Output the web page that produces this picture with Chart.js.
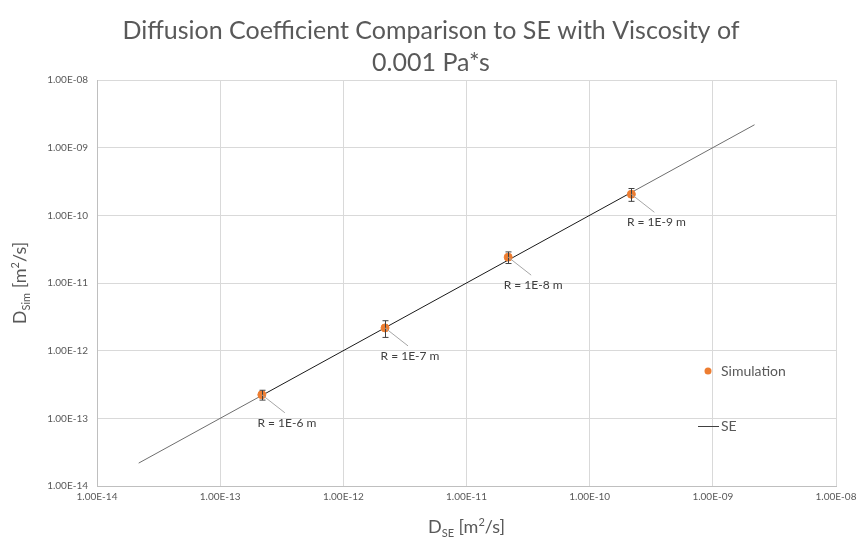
<!DOCTYPE html>
<html>
<head>
<meta charset="utf-8">
<script src="https://cdn.jsdelivr.net/npm/chart.js@4.4.1/dist/chart.umd.min.js"></script>
<style>
  html, body { margin: 0; padding: 0; background: #fff; }
  #wrap { width: 862px; height: 547px; }
</style>
</head>
<body>
<div id="wrap"><canvas id="chart"></canvas></div>
<script>
const titleLines = ['Diffusion Coefficient Comparison to SE with Viscosity of', '0.001 Pa*s'];
const tickValues = [1e-14, 1e-13, 1e-12, 1e-11, 1e-10, 1e-9, 1e-8];

// Stokes-Einstein line (R = 1E-5 ... 1E-10 m)
const seX = [2.18e-14, 2.18e-13, 2.18e-12, 2.18e-11, 2.18e-10, 2.18e-9];
const seY = [2.18e-14, 2.18e-13, 2.18e-12, 2.18e-11, 2.18e-10, 2.18e-9];

// Simulation results
const simLabels = ['R = 1E-6 m', 'R = 1E-7 m', 'R = 1E-8 m', 'R = 1E-9 m'];
const simX = [2.18e-13, 2.18e-12, 2.18e-11, 2.18e-10];
const simY = [2.23e-13, 2.17e-12, 2.41e-11, 2.05e-10];
const simErr = [3.7e-14, 0.6e-12, 4.7e-12, 4.4e-11];

const FONT = 'Lato, "Open Sans", sans-serif';
const TEXT = '#595959';

function fmtTick(v) {
    const e = Math.round(Math.log10(v));
    return '1.00E' + (e < 0 ? '-' : '+') + String(Math.abs(e)).padStart(2, '0');
}

// draw "D_sub [m^2/s]" style text, centred at (x, y)
function drawRich(ctx, parts, x, y, size) {
    const small = Math.round(size * 0.62);
    let total = 0;
    parts.forEach(p => {
        ctx.font = `${p.t ? small : size}px ${FONT}`;
        p.w = ctx.measureText(p.s).width;
        total += p.w;
    });
    let cx = x - total / 2;
    ctx.textBaseline = 'alphabetic';
    ctx.textAlign = 'left';
    parts.forEach(p => {
        ctx.font = `${p.t ? small : size}px ${FONT}`;
        let dy = 0;
        if (p.t === 'sub') dy = size * 0.22;
        if (p.t === 'sup') dy = -size * 0.38;
        ctx.fillText(p.s, cx, y + dy);
        cx += p.w;
    });
}

const extras = {
    id: 'extras',
    afterDatasetsDraw(chart) {
        const ctx = chart.ctx;
        const xs = chart.scales.x, ys = chart.scales.y;
        ctx.save();

        // error bars
        ctx.strokeStyle = '#404040';
        ctx.lineWidth = 1;
        simX.forEach((xv, i) => {
            const px = Math.round(xs.getPixelForValue(xv)) + 0.5;
            const top = ys.getPixelForValue(simY[i] + simErr[i]);
            const bot = ys.getPixelForValue(simY[i] - simErr[i]);
            ctx.beginPath();
            ctx.moveTo(px, top); ctx.lineTo(px, bot);
            ctx.moveTo(px - 3, top); ctx.lineTo(px + 3, top);
            ctx.moveTo(px - 3, bot); ctx.lineTo(px + 3, bot);
            ctx.stroke();
        });

        // data labels with leader lines
        ctx.font = `12px ${FONT}`;
        ctx.textAlign = 'center';
        ctx.textBaseline = 'middle';
        simX.forEach((xv, i) => {
            const px = xs.getPixelForValue(xv);
            const py = ys.getPixelForValue(simY[i]);
            ctx.strokeStyle = '#a6a6a6';
            ctx.beginPath();
            ctx.moveTo(px, py);
            ctx.lineTo(px + 23, py + 18);
            ctx.stroke();
            ctx.fillStyle = '#404040';
            ctx.fillText(simLabels[i], px + 25, py + 28);
        });

        // legend
        const lx = 708;
        ctx.fillStyle = '#ED7D31';
        ctx.beginPath();
        ctx.arc(lx, 371, 3.5, 0, Math.PI * 2);
        ctx.fill();
        ctx.strokeStyle = '#404040';
        ctx.beginPath();
        ctx.moveTo(698, 426.5); ctx.lineTo(719, 426.5);
        ctx.stroke();
        ctx.fillStyle = TEXT;
        ctx.font = `14px ${FONT}`;
        ctx.textAlign = 'left';
        ctx.fillText('Simulation', 721, 371);
        ctx.fillText('SE', 721, 426);

        // axis titles
        ctx.fillStyle = TEXT;
        const area = chart.chartArea;
        drawRich(ctx, [{s: 'D'}, {s: 'SE', t: 'sub'}, {s: ' [m'}, {s: '2', t: 'sup'}, {s: '/s]'}],
            (area.left + area.right) / 2, 533, 18);
        ctx.save();
        ctx.translate(26, (area.top + area.bottom) / 2);
        ctx.rotate(-Math.PI / 2);
        drawRich(ctx, [{s: 'D'}, {s: 'Sim', t: 'sub'}, {s: ' [m'}, {s: '2', t: 'sup'}, {s: '/s]'}], 0, 0, 18);
        ctx.restore();

        ctx.restore();
    }
};

function setTicks(scale) {
    scale.ticks = tickValues.map(v => ({ value: v }));
}

const seSegColor = ctx => (ctx.p0DataIndex >= 1 && ctx.p0DataIndex <= 3) ? '#1a1a1a' : '#6e6e6e';

new Chart(document.getElementById('chart'), {
    type: 'scatter',
    data: {
        datasets: [{
            label: 'Simulation',
            data: simX.map((x, i) => ({ x: x, y: simY[i] })),
            backgroundColor: '#ED7D31',
            borderColor: '#ED7D31',
            pointRadius: 4,
            pointHoverRadius: 4,
            order: 0
        }, {
            label: 'SE',
            data: seX.map((x, i) => ({ x: x, y: seY[i] })),
            showLine: true,
            borderColor: '#404040',
            borderWidth: 1,
            pointRadius: 0,
            segment: { borderColor: seSegColor },
            order: 1
        }]
    },
    options: {
        responsive: true,
        maintainAspectRatio: false,
        animation: false,
        layout: { padding: { left: 26, right: 26, top: 0, bottom: 0 } },
        plugins: {
            legend: { display: false },
            tooltip: { enabled: false },
            title: {
                display: true,
                text: titleLines,
                color: TEXT,
                font: { family: FONT, size: 25, weight: 'normal', lineHeight: 1.28 },
                padding: { top: 15, bottom: 1 }
            }
        },
        scales: {
            x: {
                type: 'logarithmic',
                min: 1e-14,
                max: 1e-8,
                afterBuildTicks: setTicks,
                afterFit: s => { s.height = 61; },
                grid: { color: '#d9d9d9', drawTicks: false },
                border: { color: '#bfbfbf' },
                ticks: {
                    color: TEXT,
                    font: { family: FONT, size: 10 },
                    padding: 5,
                    maxRotation: 0,
                    autoSkip: false,
                    callback: v => fmtTick(v)
                }
            },
            y: {
                type: 'logarithmic',
                min: 1e-14,
                max: 1e-8,
                afterBuildTicks: setTicks,
                afterFit: s => { s.width = 71; },
                grid: { color: '#d9d9d9', drawTicks: false },
                border: { color: '#bfbfbf' },
                ticks: {
                    color: TEXT,
                    font: { family: FONT, size: 10 },
                    padding: 9,
                    autoSkip: false,
                    callback: v => fmtTick(v)
                }
            }
        }
    },
    plugins: [extras]
});
</script>
</body>
</html>
